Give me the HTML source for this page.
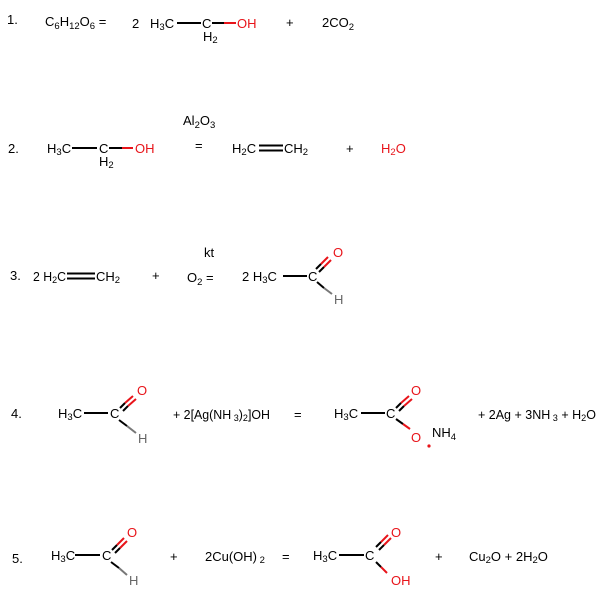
<!DOCTYPE html>
<html><head><meta charset="utf-8"><style>
html,body{margin:0;padding:0;background:#fff;}
svg{display:block;}
text{font-family:"Liberation Sans",Arial,sans-serif;font-size:13px;fill:#000;}
.r{fill:#e8141a;}
.g{fill:#666;}
.s{font-size:9.5px;}
</style></head><body>
<svg width="600" height="600" viewBox="0 0 600 600" xmlns="http://www.w3.org/2000/svg">
<g stroke-width="2" fill="none">
<line x1="177" y1="23" x2="201" y2="23" stroke="#000"/>
<line x1="212" y1="23" x2="224" y2="23" stroke="#000"/>
<line x1="224" y1="23" x2="236" y2="23" stroke="#e8141a"/>
<line x1="72" y1="148" x2="97" y2="148" stroke="#000"/>
<line x1="109" y1="148" x2="122" y2="148" stroke="#000"/>
<line x1="122" y1="148" x2="133" y2="148" stroke="#e8141a"/>
<line x1="259" y1="145.5" x2="283" y2="145.5" stroke="#000"/>
<line x1="259" y1="150.5" x2="283" y2="150.5" stroke="#000"/>
<line x1="67" y1="273.5" x2="95" y2="273.5" stroke="#000"/>
<line x1="67" y1="278.5" x2="95" y2="278.5" stroke="#000"/>
<line x1="283" y1="276" x2="307" y2="276" stroke="#000"/>
<line x1="316" y1="269" x2="321" y2="264" stroke="#000"/><line x1="321" y1="264" x2="328" y2="257" stroke="#e8141a"/>
<line x1="319" y1="272" x2="324" y2="267" stroke="#000"/><line x1="324" y1="267" x2="331" y2="260" stroke="#e8141a"/>
<line x1="317" y1="282" x2="324" y2="288" stroke="#000"/><line x1="324" y1="288" x2="332" y2="294" stroke="#777"/>
<line x1="84" y1="413" x2="108" y2="413" stroke="#000"/>
<line x1="120" y1="408" x2="125" y2="403" stroke="#000"/><line x1="125" y1="403" x2="133" y2="396" stroke="#e8141a"/>
<line x1="123" y1="411" x2="128" y2="406" stroke="#000"/><line x1="128" y1="406" x2="136" y2="399" stroke="#e8141a"/>
<line x1="119" y1="420" x2="127" y2="426" stroke="#000"/><line x1="127" y1="426" x2="136" y2="433" stroke="#777"/>
<line x1="361" y1="413" x2="385" y2="413" stroke="#000"/>
<line x1="396" y1="408" x2="401" y2="403" stroke="#000"/><line x1="401" y1="403" x2="409" y2="396" stroke="#e8141a"/>
<line x1="399" y1="411" x2="404" y2="406" stroke="#000"/><line x1="404" y1="406" x2="412" y2="399" stroke="#e8141a"/>
<line x1="396" y1="419" x2="403" y2="424" stroke="#000"/><line x1="403" y1="424" x2="410" y2="429" stroke="#e8141a"/>
<line x1="75" y1="555" x2="100" y2="555" stroke="#000"/>
<line x1="112" y1="550" x2="117" y2="545" stroke="#000"/><line x1="117" y1="545" x2="124" y2="538" stroke="#e8141a"/>
<line x1="115" y1="553" x2="120" y2="548" stroke="#000"/><line x1="120" y1="548" x2="127" y2="541" stroke="#e8141a"/>
<line x1="111" y1="562" x2="119" y2="568" stroke="#000"/><line x1="119" y1="568" x2="127" y2="575" stroke="#777"/>
<line x1="339" y1="555" x2="364" y2="555" stroke="#000"/>
<line x1="376" y1="547" x2="381" y2="542" stroke="#000"/><line x1="381" y1="542" x2="388" y2="535" stroke="#e8141a"/>
<line x1="379" y1="550" x2="384" y2="545" stroke="#000"/><line x1="384" y1="545" x2="391" y2="538" stroke="#e8141a"/>
<line x1="376" y1="562" x2="381" y2="567" stroke="#000"/><line x1="381" y1="567" x2="387" y2="573" stroke="#e8141a"/>
</g>
<circle cx="429" cy="446" r="1.6" fill="#e8141a"/>

<text x="7" y="24">1.</text>
<text x="45" y="26">C<tspan class="s" dy="3">6</tspan><tspan dy="-3">H</tspan><tspan class="s" dy="3">12</tspan><tspan dy="-3">O</tspan><tspan class="s" dy="3">6</tspan><tspan dy="-3"> =</tspan></text>
<text x="132" y="28">2</text>
<text x="150" y="28">H<tspan class="s" dy="2">3</tspan><tspan dy="-2">C</tspan></text>
<text x="202" y="28">C</text>
<text x="203" y="41">H<tspan class="s" dy="2">2</tspan></text>
<text x="237" y="28" class="r">OH</text>
<text x="286" y="27">+</text>
<text x="322" y="27">2CO<tspan class="s" dy="3">2</tspan></text>

<text x="8" y="153">2.</text>
<text x="47" y="153">H<tspan class="s" dy="2">3</tspan><tspan dy="-2">C</tspan></text>
<text x="99" y="153">C</text>
<text x="99" y="166">H<tspan class="s" dy="2">2</tspan></text>
<text x="135" y="153" class="r">OH</text>
<text x="183" y="125">Al<tspan class="s" dy="3">2</tspan><tspan dy="-3">O</tspan><tspan class="s" dy="3">3</tspan></text>
<text x="195" y="150">=</text>
<text x="232" y="153">H<tspan class="s" dy="2">2</tspan><tspan dy="-2">C</tspan></text>
<text x="284" y="153">CH<tspan class="s" dy="2">2</tspan></text>
<text x="346" y="153">+</text>
<text x="381" y="153" class="r">H<tspan class="s" dy="2">2</tspan><tspan dy="-2">O</tspan></text>

<text x="10" y="280">3.</text>
<text x="33" y="281" textLength="33" lengthAdjust="spacingAndGlyphs">2 H<tspan class="s" dy="2">2</tspan><tspan dy="-2">C</tspan></text>
<text x="96" y="281">CH<tspan class="s" dy="2">2</tspan></text>
<text x="152" y="280">+</text>
<text x="204" y="257">kt</text>
<text x="187" y="282">O<tspan class="s" dy="3">2</tspan><tspan dy="-3"> =</tspan></text>
<text x="242" y="281">2 H<tspan class="s" dy="2">3</tspan><tspan dy="-2">C</tspan></text>
<text x="308" y="281">C</text>
<text x="333" y="257" class="r">O</text>
<text x="334" y="304" class="g">H</text>

<text x="11" y="418">4.</text>
<text x="58" y="418">H<tspan class="s" dy="2">3</tspan><tspan dy="-2">C</tspan></text>
<text x="110" y="418">C</text>
<text x="137" y="395" class="r">O</text>
<text x="138" y="443" class="g">H</text>
<text x="173" y="419" textLength="97" lengthAdjust="spacingAndGlyphs">+ 2[Ag(NH<tspan class="s" dy="2"> 3</tspan><tspan dy="-2">)</tspan><tspan class="s" dy="2">2</tspan><tspan dy="-2">]OH</tspan></text>
<text x="294" y="419">=</text>
<text x="334" y="418">H<tspan class="s" dy="2">3</tspan><tspan dy="-2">C</tspan></text>
<text x="386" y="418">C</text>
<text x="411" y="395" class="r">O</text>
<text x="411" y="442" class="r">O</text>
<text x="432" y="437">NH<tspan class="s" dy="3">4</tspan></text>
<text x="478" y="419" textLength="118" lengthAdjust="spacingAndGlyphs">+ 2Ag + 3NH<tspan class="s" dy="2"> 3</tspan><tspan dy="-2"> + H</tspan><tspan class="s" dy="2">2</tspan><tspan dy="-2">O</tspan></text>

<text x="12" y="563">5.</text>
<text x="51" y="560">H<tspan class="s" dy="2">3</tspan><tspan dy="-2">C</tspan></text>
<text x="102" y="560">C</text>
<text x="127" y="537" class="r">O</text>
<text x="129" y="585" class="g">H</text>
<text x="170" y="561">+</text>
<text x="205" y="561">2Cu(OH)<tspan class="s" dy="2"> 2</tspan></text>
<text x="282" y="561">=</text>
<text x="313" y="560">H<tspan class="s" dy="2">3</tspan><tspan dy="-2">C</tspan></text>
<text x="365" y="560">C</text>
<text x="391" y="537" class="r">O</text>
<text x="391" y="585" class="r">OH</text>
<text x="435" y="561">+</text>
<text x="469" y="561">Cu<tspan class="s" dy="2">2</tspan><tspan dy="-2">O + 2H</tspan><tspan class="s" dy="2">2</tspan><tspan dy="-2">O</tspan></text>
</svg>
</body></html>
